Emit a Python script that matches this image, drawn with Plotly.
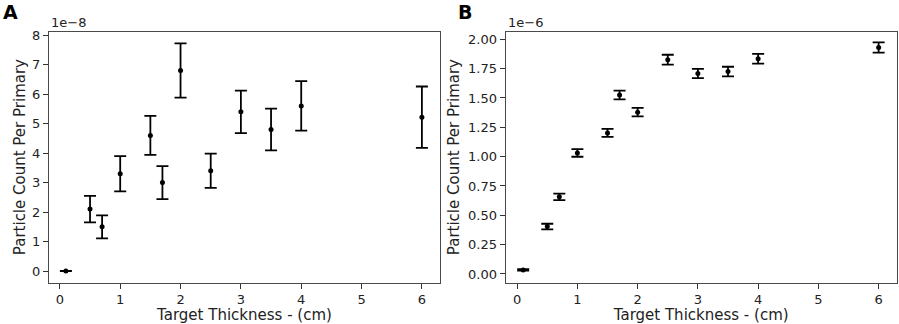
import plotly.graph_objects as go

# Panel A (values in units of 1e-8)
thickness_a = [0.1, 0.5, 0.7, 1.0, 1.5, 1.7, 2.0, 2.5, 3.0, 3.5, 4.0, 6.0]
count_a = [0.0, 2.1, 1.5, 3.3, 4.6, 3.0, 6.8, 3.4, 5.4, 4.8, 5.6, 5.22]
err_a = [0.0, 0.45, 0.39, 0.6, 0.66, 0.56, 0.92, 0.58, 0.72, 0.71, 0.84, 1.04]

# Panel B (values in units of 1e-6)
thickness_b = [0.1, 0.5, 0.7, 1.0, 1.5, 1.7, 2.0, 2.5, 3.0, 3.5, 4.0, 6.0]
count_b = [0.034, 0.404, 0.657, 1.031, 1.202, 1.525, 1.379, 1.826, 1.708, 1.725, 1.834, 1.93]
err_b = [0.006, 0.024, 0.027, 0.032, 0.034, 0.038, 0.036, 0.042, 0.039, 0.041, 0.042, 0.044]

x_ticks = [0, 1, 2, 3, 4, 5, 6]
y_ticks_a = [0, 1, 2, 3, 4, 5, 6, 7, 8]
y_ticks_b = [0.0, 0.25, 0.5, 0.75, 1.0, 1.25, 1.5, 1.75, 2.0]

FONT = "DejaVu Sans"
W, H = 899, 324

fig = go.Figure()

def add_panel(x, y, e, xa, ya):
    fig.add_trace(go.Scatter(
        x=x, y=y, mode="markers",
        marker=dict(color="black", size=5),
        error_y=dict(type="data", array=e, visible=True, color="black",
                     thickness=1.8, width=6),
        xaxis=xa, yaxis=ya, showlegend=False, cliponaxis=False,
    ))

add_panel(thickness_a, count_a, err_a, "x", "y")
add_panel(thickness_b, count_b, err_b, "x2", "y2")

ydom = [1 - 282 / H, 1 - 28 / H]
axis_common = dict(
    showgrid=False, zeroline=False, showline=True, mirror=True,
    linecolor="#4a4a4a", linewidth=1.2,
    ticks="outside", ticklen=5, tickwidth=1, tickcolor="#333",
    tickfont=dict(family=FONT, size=13, color="#222"),
)
title_font = dict(size=15, family=FONT, color="#222")

fig.update_layout(
    width=W, height=H,
    margin=dict(l=0, r=0, t=0, b=0),
    paper_bgcolor="white", plot_bgcolor="white",
    font=dict(family=FONT, color="#222"),
    xaxis=dict(domain=[49 / W, 440 / W], range=[-0.18, 6.30], tickvals=x_ticks,
               anchor="y",
               title=dict(text="Target Thickness - (cm)", font=title_font, standoff=4),
               **axis_common),
    yaxis=dict(domain=ydom, range=[-0.39, 8.12], tickvals=y_ticks_a, anchor="x",
               title=dict(text="Particle Count Per Primary", font=title_font, standoff=2),
               **axis_common),
    xaxis2=dict(domain=[505.7 / W, 896.7 / W], range=[-0.19, 6.30], tickvals=x_ticks,
                anchor="y2",
                title=dict(text="Target Thickness - (cm)", font=title_font, standoff=4),
                **axis_common),
    yaxis2=dict(domain=ydom, range=[-0.073, 2.065], tickvals=y_ticks_b, tickformat=".2f",
                anchor="x2",
                title=dict(text="Particle Count Per Primary", font=title_font, standoff=4),
                **axis_common),
)

fig.add_annotation(text="1e\u22128", x=49 / W, y=1 - 28 / H, xref="paper", yref="paper",
                   xanchor="left", yanchor="bottom", showarrow=False,
                   font=dict(family=FONT, size=13, color="#222"))
fig.add_annotation(text="1e\u22126", x=505.7 / W, y=1 - 28 / H, xref="paper", yref="paper",
                   xanchor="left", yanchor="bottom", showarrow=False,
                   font=dict(family=FONT, size=13, color="#222"))
fig.add_annotation(text="<b>A</b>", x=1 / W, y=1, xref="paper", yref="paper",
                   xanchor="left", yanchor="top", showarrow=False, yshift=5,
                   font=dict(family=FONT, size=19, color="black"))
fig.add_annotation(text="<b>B</b>", x=456 / W, y=1, xref="paper", yref="paper",
                   xanchor="left", yanchor="top", showarrow=False, yshift=5,
                   font=dict(family=FONT, size=19, color="black"))

fig.write_html(
    "out.html",
    config={"displayModeBar": False},
    post_script="document.body.style.margin='0';document.body.style.overflow='hidden';",
)
